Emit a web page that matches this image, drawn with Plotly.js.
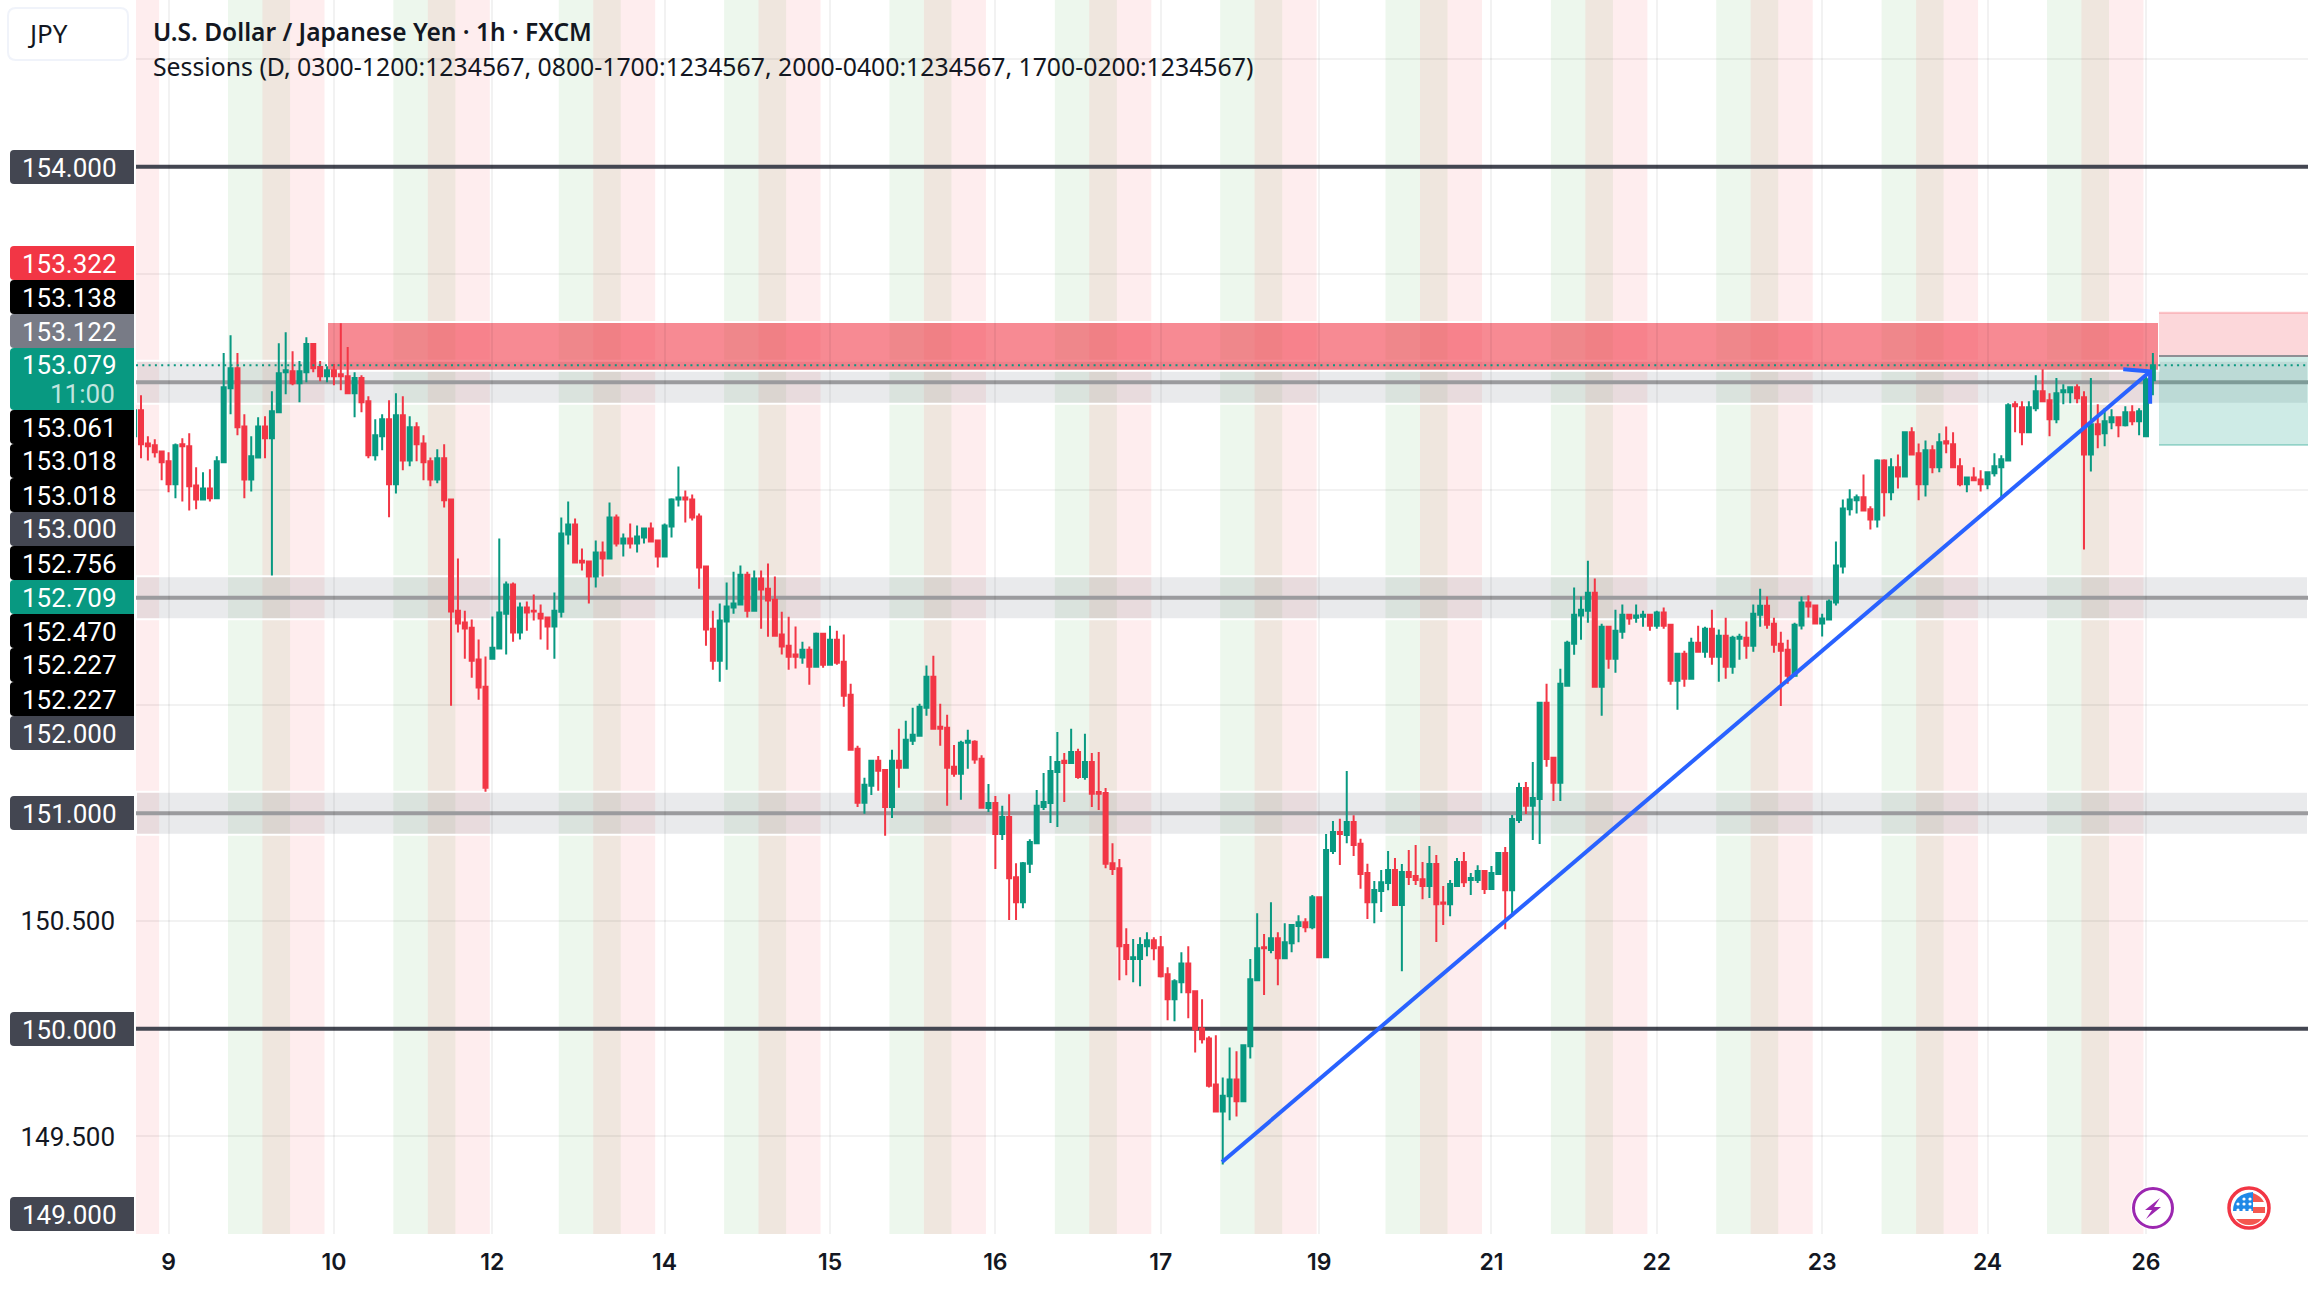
<!DOCTYPE html>
<html><head><meta charset="utf-8">
<script src="https://cdn.plot.ly/plotly-3.0.1.min.js"></script>
<style>html,body{margin:0;padding:0;background:#fff}#c{width:2308px;height:1290px}</style></head>
<body><div id="c"></div>
<script>
const priceOpen=[152.749,
152.870,152.716,152.707,152.679,152.633,152.526,152.712,152.703,152.521,152.456,
152.507,152.461,152.628,152.972,153.065,152.795,152.549,152.651,152.795,152.740,
152.861,153.046,153.051,152.995,153.046,153.177,153.070,153.028,153.056,153.037,
153.028,152.949,153.019,152.912,152.661,152.749,152.828,152.526,152.847,152.637,
152.791,152.716,152.633,152.549,152.647,152.456,151.940,151.885,151.861,151.713,
151.587,151.717,151.764,151.926,152.061,151.838,151.954,151.940,151.926,151.908,
151.866,151.935,152.293,152.340,152.172,152.168,152.098,152.210,152.182,152.372,
152.251,152.275,152.251,152.279,152.321,152.265,152.191,152.330,152.456,152.465,
152.456,152.377,152.145,151.856,151.708,151.889,151.954,151.968,152.107,151.940,
152.089,152.042,151.991,151.829,151.777,151.736,151.722,151.759,151.680,151.833,
151.689,151.805,151.703,151.550,151.299,151.048,151.127,151.243,151.201,151.029,
151.243,151.211,151.336,151.359,151.489,151.633,151.401,151.396,151.215,151.183,
151.327,151.331,151.253,151.024,151.047,150.904,150.982,150.703,150.587,150.765,
150.861,151.029,151.047,151.191,151.243,151.233,151.284,151.168,151.238,151.098,
151.094,150.768,150.745,150.388,150.323,150.323,150.383,150.411,150.378,150.253,
150.137,150.215,150.303,150.174,150.001,149.955,149.741,149.616,149.686,149.764,
149.663,149.918,150.225,150.378,150.365,150.420,150.327,150.397,150.476,150.494,
150.471,150.610,150.332,150.825,150.913,150.899,150.959,150.858,150.722,150.587,
150.639,150.676,150.736,150.574,150.727,150.708,150.694,150.662,150.764,150.586,
150.578,150.662,150.773,150.690,150.690,150.732,150.648,150.718,150.815,150.643,
150.969,151.117,151.034,151.066,151.512,151.257,151.141,151.591,151.786,151.917,
151.940,152.023,151.587,151.865,151.717,151.842,151.921,151.907,151.912,151.921,
151.870,151.931,151.875,151.615,151.740,151.624,151.791,151.749,151.856,151.726,
151.824,151.680,151.810,151.814,151.777,151.921,151.963,151.879,151.786,151.759,
151.638,151.871,151.978,151.964,151.880,151.899,151.978,152.145,152.410,152.452,
152.466,152.410,152.363,152.637,152.489,152.605,152.563,152.768,152.670,152.526,
152.684,152.605,152.726,152.712,152.610,152.526,152.558,152.549,152.526,152.577,
152.605,152.637,152.898,152.884,152.768,152.879,152.958,152.916,152.828,152.953,
152.953,152.977,152.930,152.665,152.805,152.763,152.814,152.837,152.800,152.861,
152.819,152.749,153.009];
const priceHigh=[152.870,
152.940,152.749,152.735,152.679,152.675,152.716,152.740,152.763,152.605,152.582,
152.596,152.656,153.135,153.218,153.135,152.851,152.749,152.837,152.842,152.958,
153.181,153.232,153.144,153.098,153.209,153.177,153.098,153.074,153.084,153.274,
153.163,153.046,153.032,152.935,152.828,152.851,152.916,152.949,152.935,152.842,
152.814,152.754,152.651,152.689,152.712,152.456,152.182,151.940,151.899,151.806,
151.727,151.913,152.275,152.075,152.071,151.978,151.982,152.015,151.968,151.913,
152.024,152.372,152.447,152.368,152.228,152.172,152.265,152.261,152.442,152.386,
152.298,152.344,152.335,152.326,152.349,152.265,152.344,152.461,152.609,152.498,
152.479,152.391,152.145,151.940,151.973,152.070,152.121,152.149,152.121,152.126,
152.126,152.159,152.098,151.935,151.912,151.866,151.796,151.773,151.838,151.833,
151.870,151.847,151.829,151.601,151.313,151.164,151.243,151.266,151.201,151.294,
151.392,151.429,151.489,151.508,151.685,151.731,151.508,151.457,151.317,151.336,
151.387,151.339,151.269,151.135,151.080,151.034,151.088,150.768,150.773,150.879,
151.108,151.186,151.266,151.377,151.279,151.392,151.299,151.369,151.279,151.284,
151.117,150.861,150.788,150.466,150.416,150.424,150.448,150.424,150.430,150.285,
150.230,150.355,150.383,150.174,150.137,149.965,149.970,149.774,149.913,149.895,
149.923,150.323,150.536,150.439,150.587,150.448,150.489,150.486,150.527,150.513,
150.620,150.610,150.904,150.964,150.974,151.196,150.990,150.881,150.765,150.685,
150.736,150.825,150.792,150.764,150.829,150.852,150.773,150.848,150.806,150.662,
150.690,150.792,150.820,150.722,150.759,150.732,150.755,150.815,150.843,150.992,
151.141,151.145,151.238,151.517,151.601,151.257,151.670,151.800,152.047,152.005,
152.172,152.089,151.879,151.870,151.944,151.968,151.921,151.968,151.940,151.921,
151.940,151.954,151.875,151.745,151.754,151.814,151.870,151.865,151.944,151.852,
151.907,151.824,151.833,151.889,151.968,152.042,152.005,151.907,151.842,151.805,
151.884,152.005,152.010,151.964,151.926,151.992,152.261,152.456,152.503,152.479,
152.572,152.424,152.642,152.642,152.647,152.665,152.772,152.791,152.716,152.730,
152.707,152.763,152.795,152.768,152.647,152.563,152.605,152.591,152.586,152.670,
152.661,152.902,152.912,152.912,152.912,153.032,153.060,152.949,153.019,152.991,
152.981,152.991,152.958,153.019,152.898,152.879,152.874,152.837,152.888,152.893,
152.879,153.037,153.135];
const priceLow=[152.749,
152.647,152.637,152.651,152.545,152.489,152.461,152.447,152.405,152.410,152.452,
152.447,152.461,152.628,152.851,152.754,152.461,152.493,152.651,152.647,152.103,
152.861,152.944,152.986,152.907,153.000,153.046,153.005,153.000,152.986,152.963,
152.944,152.837,152.861,152.647,152.637,152.684,152.373,152.484,152.591,152.610,
152.633,152.545,152.517,152.531,152.419,151.499,151.838,151.717,151.629,151.527,
151.099,151.717,151.764,151.736,151.796,151.806,151.847,151.894,151.806,151.759,
151.717,151.908,152.247,152.159,152.126,151.973,152.047,152.098,152.177,152.238,
152.191,152.228,152.210,152.251,152.261,152.140,152.186,152.279,152.423,152.349,
152.358,152.042,151.777,151.666,151.610,151.666,151.926,151.968,151.908,151.935,
151.856,151.819,151.824,151.736,151.666,151.671,151.694,151.596,151.680,151.675,
151.689,151.689,151.494,151.294,151.029,150.997,151.085,151.104,150.895,150.978,
151.118,151.211,151.317,151.359,151.452,151.392,151.313,151.034,151.169,151.062,
151.206,151.229,151.025,151.005,150.741,150.876,150.504,150.504,150.559,150.722,
150.861,151.015,150.954,150.936,151.052,151.233,151.160,151.155,151.029,151.015,
150.745,150.713,150.225,150.248,150.215,150.197,150.336,150.318,150.238,150.039,
150.034,150.164,150.048,149.890,149.931,149.727,149.616,149.370,149.575,149.593,
149.663,149.862,150.220,150.156,150.350,150.202,150.327,150.355,150.401,150.448,
150.461,150.327,150.332,150.811,150.760,150.861,150.801,150.649,150.509,150.489,
150.541,150.643,150.569,150.267,150.667,150.667,150.601,150.606,150.402,150.481,
150.522,150.657,150.657,150.620,150.676,150.625,150.648,150.713,150.462,150.518,
150.955,150.996,150.876,150.857,151.215,151.057,151.057,151.587,151.735,151.805,
151.884,151.587,151.452,151.670,151.652,151.810,151.875,151.884,151.865,151.847,
151.856,151.856,151.596,151.480,151.587,151.624,151.749,151.721,151.689,151.610,
151.624,151.647,151.712,151.717,151.749,151.865,151.856,151.745,151.498,151.601,
151.638,151.852,151.908,151.880,151.820,151.899,151.964,152.112,152.382,152.391,
152.405,152.317,152.326,152.377,152.452,152.507,152.563,152.661,152.452,152.470,
152.577,152.582,152.670,152.605,152.517,152.489,152.545,152.493,152.503,152.563,
152.461,152.633,152.768,152.707,152.768,152.865,152.912,152.749,152.809,152.898,
152.902,152.902,152.224,152.586,152.693,152.703,152.782,152.744,152.795,152.800,
152.754,152.749,152.940];
const priceClose=[152.870,
152.712,152.703,152.675,152.628,152.526,152.707,152.703,152.517,152.456,152.507,
152.461,152.633,152.977,153.065,152.791,152.549,152.656,152.795,152.740,152.865,
153.042,153.056,152.995,153.051,153.177,153.065,153.028,153.056,153.028,153.028,
152.949,153.019,152.907,152.661,152.754,152.828,152.526,152.847,152.637,152.791,
152.712,152.628,152.549,152.647,152.452,151.936,151.880,151.857,151.708,151.583,
151.118,151.768,151.931,152.061,151.838,151.954,151.931,151.936,151.903,151.866,
151.940,152.298,152.340,152.163,152.163,152.098,152.210,152.182,152.372,152.251,
152.275,152.251,152.284,152.321,152.261,152.191,152.335,152.456,152.465,152.456,
152.372,152.140,151.852,151.708,151.894,151.959,151.973,152.107,151.940,152.089,
152.038,151.987,151.824,151.773,151.726,151.726,151.759,151.680,151.833,151.689,
151.805,151.698,151.545,151.294,151.048,151.132,151.243,151.197,151.029,151.243,
151.211,151.341,151.364,151.494,151.633,151.392,151.392,151.211,151.183,151.327,
151.336,151.249,151.025,151.047,150.904,150.982,150.698,150.587,150.768,150.866,
151.034,151.052,151.196,151.238,151.233,151.284,151.168,151.238,151.090,151.090,
150.765,150.741,150.383,150.323,150.332,150.388,150.411,150.373,150.243,150.137,
150.220,150.303,150.169,149.998,149.951,149.735,149.616,149.689,149.764,149.663,
149.923,150.230,150.373,150.373,150.420,150.327,150.401,150.481,150.494,150.471,
150.610,150.332,150.829,150.913,150.904,150.959,150.853,150.718,150.587,150.644,
150.680,150.736,150.574,150.727,150.704,150.690,150.662,150.764,150.578,150.580,
150.671,150.773,150.680,150.699,150.732,150.648,150.722,150.815,150.643,150.973,
151.117,151.034,151.071,151.512,151.252,151.141,151.601,151.791,151.921,151.944,
152.023,151.587,151.865,151.717,151.847,151.921,151.903,151.917,151.921,151.870,
151.931,151.870,151.615,151.740,151.624,151.791,151.749,151.856,151.726,151.824,
151.680,151.814,151.819,151.777,151.926,151.963,151.875,151.782,151.754,151.638,
151.875,151.978,151.959,151.880,151.903,151.982,152.150,152.414,152.456,152.466,
152.405,152.363,152.637,152.489,152.605,152.563,152.768,152.665,152.526,152.684,
152.605,152.721,152.716,152.605,152.526,152.558,152.545,152.526,152.582,152.610,
152.642,152.893,152.888,152.768,152.884,152.958,152.912,152.828,152.949,152.963,
152.977,152.926,152.665,152.805,152.758,152.819,152.837,152.800,152.861,152.819,
152.865,153.014,153.079];
const firstHour=-1;
const tickHours=[4,28,51,76,100,124,148,171,196,220,244,268,291];
const tickLabels=['9','10','12','14','15','16','17','19','21','22','23','24','26'];
const gridPrices=[154.5,153.5,152.5,151.5,150.5,149.5];
const gridLabels=['','','','','150.500','149.500'];
const darkLevels=[154,150];
const greyLevels=[153,152,151];
const sessionStarts=[-11.37,12.63,36.63,60.63,84.63,108.63,132.63,156.63,180.63,204.63,228.63,252.63,276.63];
const supplyZone=[153.053,153.279];
const positionLevels=[152.709,153.122,153.322];
const lastPrice=153.079;
const trendHours=[156.9,291.6];
const trendPrices=[149.381,153.05];
const arrowHours=[287.7,291.6,291.6];
const arrowPrices=[153.06,153.05,152.9];
const axisLabelTexts=['154.000','153.322','153.138','153.122','153.061','153.018','153.018','153.000','152.756','152.709','152.470','152.227','152.227','152.000','151.000','150.000','149.000'];
const axisLabelTops=[150,246,280,314,410,444,478,512,546,580,614,648,682,716,796,1012,1197];
const axisLabelFill=['#434651','#F23645','#000','#787B86','#000','#000','#000','#434651','#000','#089981','#000','#000','#000','#434651','#434651','#434651','#434651'];

const W=2308,H=1290,L=136,B=1234;
const PX=x=>(x-L)/(W-L), PY=y=>1-y/B;
const hours=priceOpen.map((_,i)=>i+firstHour);
const shapes=[],ann=[];
const band=(x0,x1,c)=>shapes.push({type:'rect',layer:'below',xref:'x',yref:'paper',x0,x1,y0:0,y1:1,fillcolor:c,line:{width:0}});
const sessWidths=[5,4,5];
const sessCols=['rgba(76,175,80,.1)','rgba(148,88,35,.15)','rgba(242,54,69,.09)'];
sessionStarts.forEach(s=>{let a=s;sessWidths.forEach((w,k)=>{band(a,a+w,sessCols[k]);a+=w;});});
greyLevels.forEach(p=>{
  shapes.push({type:'rect',layer:'below',xref:'paper',yref:'y',x0:0,x1:1,y0:p-.1,y1:p+.1,fillcolor:'rgba(120,123,134,.16)',line:{color:'#fff',width:2}});
});
shapes.push({type:'rect',layer:'below',xref:'x',yref:'y',x0:(327-141)/6.89,x1:(2159-141)/6.89,y0:supplyZone[0],y1:supplyZone[1],fillcolor:'rgba(242,54,69,.58)',line:{color:'#fff',width:2}});
greyLevels.forEach(p=>shapes.push({type:'line',layer:'below',xref:'paper',yref:'y',x0:0,x1:1,y0:p,y1:p,line:{color:'#9b9b9e',width:4}}));
darkLevels.forEach(p=>shapes.push({type:'line',layer:'below',xref:'paper',yref:'y',x0:0,x1:1,y0:p,y1:p,line:{color:'#434651',width:4}}));
const px0=(2159-141)/6.89;
shapes.push({type:'rect',layer:'below',xref:'x',yref:'y',x0:px0,x1:315,y0:positionLevels[1],y1:positionLevels[2],fillcolor:'rgba(242,54,69,.2)',line:{width:0}});
shapes.push({type:'rect',layer:'below',xref:'x',yref:'y',x0:px0,x1:315,y0:positionLevels[0],y1:positionLevels[1],fillcolor:'rgba(8,153,129,.2)',line:{width:0}});
shapes.push({type:'line',layer:'below',xref:'x',yref:'y',x0:px0,x1:315,y0:positionLevels[1],y1:positionLevels[1],line:{color:'#8f8f94',width:2}});
shapes.push({type:'line',layer:'below',xref:'x',yref:'y',x0:px0,x1:315,y0:positionLevels[2],y1:positionLevels[2],line:{color:'rgba(242,54,69,.25)',width:2}});
shapes.push({type:'line',layer:'below',xref:'x',yref:'y',x0:px0,x1:315,y0:positionLevels[0],y1:positionLevels[0],line:{color:'rgba(8,153,129,.3)',width:2}});
shapes.push({type:'line',layer:'above',xref:'paper',yref:'y',x0:0,x1:1,y0:lastPrice,y1:lastPrice,line:{color:'#089981',width:2,dash:'2px 4.3px'}});

function labelBox(x0,x1,y0,y1,c){
  const r=4;
  shapes.push({type:'path',xref:'paper',yref:'paper',fillcolor:c,line:{width:0},layer:'above',
    path:`M ${PX(x1)} ${PY(y0)} L ${PX(x0+r)} ${PY(y0)} Q ${PX(x0)} ${PY(y0)} ${PX(x0)} ${PY(y0+r)} L ${PX(x0)} ${PY(y1-r)} Q ${PX(x0)} ${PY(y1)} ${PX(x0+r)} ${PY(y1)} L ${PX(x1)} ${PY(y1)} Z`});
}
function text(t,x,y,o={}){
  ann.push(Object.assign({text:t,xref:'paper',yref:'paper',x:PX(x),y:PY(y),xanchor:'center',yanchor:'middle',showarrow:false,
    font:Object.assign({family:'Roboto, sans-serif',size:26,color:'#fff'},o.font||{})},o.a||{}));
}
axisLabelTexts.forEach((t,i)=>{
  const top=axisLabelTops[i];
  labelBox(10,134,top,top+34,axisLabelFill[i]);
  text(t,69.5,top+17.5);
});
labelBox(10,134,348,410,'#089981');
text('153.079',69.5,364.5);
text('11:00',117,393.5,{a:{xanchor:'right'},font:{color:'rgba(255,255,255,.75)'}});

// symbol box
shapes.push({type:'path',xref:'paper',yref:'paper',fillcolor:'#fff',line:{color:'#f0f3fa',width:2},
  path:`M ${PX(16)} ${PY(8)} L ${PX(120)} ${PY(8)} Q ${PX(128)} ${PY(8)} ${PX(128)} ${PY(16)} L ${PX(128)} ${PY(52)} Q ${PX(128)} ${PY(60)} ${PX(120)} ${PY(60)} L ${PX(16)} ${PY(60)} Q ${PX(8)} ${PY(60)} ${PX(8)} ${PY(52)} L ${PX(8)} ${PY(16)} Q ${PX(8)} ${PY(8)} ${PX(16)} ${PY(8)} Z`});
text('JPY',47.5,33,{font:{family:'Noto Sans, sans-serif',size:26,color:'#131722'}});
text('U.S. Dollar / Japanese Yen · 1h · FXCM',151,32,{a:{xanchor:'left'},font:{family:'Noto Sans, sans-serif',size:24.5,weight:600,color:'#131722'}});
text('Sessions (D, 0300-1200:1234567, 0800-1700:1234567, 2000-0400:1234567, 1700-0200:1234567)',151,66,{a:{xanchor:'left'},font:{family:'Noto Sans, sans-serif',size:24.8,color:'#131722'}});

// icons
const circ=(cx,cy,r,fill,line,w)=>shapes.push({type:'circle',xref:'paper',yref:'paper',x0:PX(cx-r),x1:PX(cx+r),y0:PY(cy+r),y1:PY(cy-r),fillcolor:fill,line:{color:line,width:w}});
const poly=(pts,fill)=>shapes.push({type:'path',xref:'paper',yref:'paper',fillcolor:fill,line:{width:0},path:pts});
const P=(x,y)=>`${PX(x)} ${PY(y)}`;
circ(2153,1208,22,'#fff','#fff',0);
circ(2153,1208,19.5,'#fff','#9C27B0',3);
poly(`M ${P(2160,1198)} L ${P(2145,1210)} L ${P(2152,1210)} L ${P(2146,1219)} L ${P(2161,1207)} L ${P(2154,1207)} Z`,'#9C27B0');
circ(2249,1208,20,'#fff','#F23645',3.5);
const fx=2249,fy=1208;
poly(`M ${P(fx+4,fy-15)} Q ${P(fx+12,fy-12)} ${P(fx+15,fy-6)} L ${P(fx+4,fy-6)} Z`,'#F4574F');
poly(`M ${P(fx+4,fy-1)} L ${P(fx+16,fy-1)} L ${P(fx+16,fy+5)} L ${P(fx+4,fy+5)} Z`,'#F4574F');
poly(`M ${P(fx-13,fy+11)} L ${P(fx+13,fy+11)} Q ${P(fx+8,fy+17)} ${P(fx,fy+17)} Q ${P(fx-8,fy+17)} ${P(fx-13,fy+11)} Z`,'#F4574F');
poly(`M ${P(fx-16,fy+3)} Q ${P(fx-16,fy-14)} ${P(fx+4,fy-16)} L ${P(fx+4,fy+3)} Z`,'#2088E6');
[-8,-3,3].forEach((dy,r)=>[-11,-5,1].forEach(dx=>{ if(!(r==0&&dx==-11)) circ(fx+dx,fy+dy-1,1.6,'#fff','#fff',0);}));

const data=[
 {type:'candlestick',x:hours,open:priceOpen,high:priceHigh,low:priceLow,close:priceClose,
  increasing:{line:{color:'#089981',width:2},fillcolor:'#089981'},
  decreasing:{line:{color:'#F23645',width:2},fillcolor:'#F23645'},whiskerwidth:0,hoverinfo:'skip'},
 {type:'scatter',mode:'lines',x:trendHours,y:trendPrices,line:{color:'#2962FF',width:4},hoverinfo:'skip'},
 {type:'scatter',mode:'lines',x:arrowHours,y:arrowPrices,line:{color:'#2962FF',width:4},hoverinfo:'skip'}
];
const layout={width:W,height:H,margin:{l:L,r:0,t:0,b:H-B},paper_bgcolor:'#fff',plot_bgcolor:'#fff',showlegend:false,
 boxgap:.2,boxgroupgap:.275,
 xaxis:{range:[(136-141)/6.89,(2308-141)/6.89],tickmode:'array',tickvals:tickHours,ticktext:tickLabels,showgrid:true,gridcolor:'rgba(0,0,0,.05)',gridwidth:2,zeroline:false,showline:false,ticks:'',
   tickfont:{family:'Inter, sans-serif',size:23,weight:600,color:'#131722'},rangeslider:{visible:false},fixedrange:true,ticklabelstandoff:12},
 yaxis:{range:[149.0473,154.7736],tickmode:'array',tickvals:gridPrices,ticktext:gridLabels,showgrid:true,gridcolor:'rgba(0,0,0,.05)',gridwidth:2,zeroline:false,showline:false,ticks:'',
   tickfont:{family:'Roboto, sans-serif',size:26,color:'#131722'},fixedrange:true,ticklabelstandoff:20},
 shapes,annotations:ann};
Plotly.newPlot('c',data,layout,{displayModeBar:false,staticPlot:true});
</script></body></html>
